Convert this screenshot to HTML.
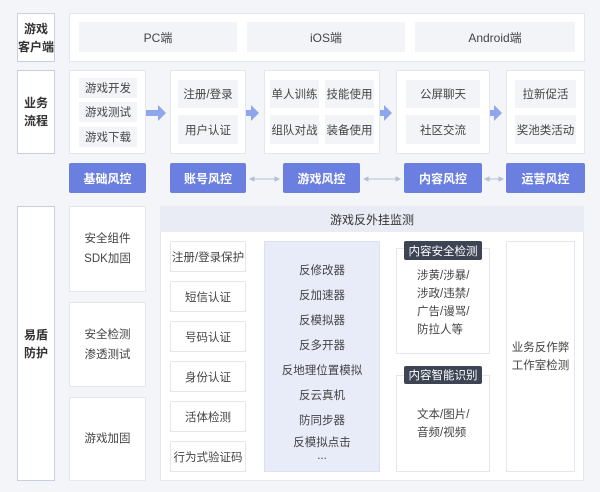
<!DOCTYPE html><html><head><meta charset="utf-8"><style>
*{margin:0;padding:0;box-sizing:border-box}
body{width:600px;height:492px;background:#f4f5f9;font-family:"Liberation Sans","Noto Sans CJK SC",sans-serif;color:#333;position:relative;overflow:hidden}
.a{position:absolute;display:flex;align-items:center;justify-content:center;text-align:center}
.w{background:#fff;border:1px solid #e3e6ef}
.lbl{background:#fff;border:1px solid #c8cfe3;font-weight:bold;font-size:12px;line-height:18px;color:#333}
.g{background:#f3f4f7;font-size:11.5px;color:#444}
.b{background:#6a7fe0;color:#fff;font-size:12px;font-weight:bold;border-radius:2px}
.it{background:#fff;border:1px solid #e3e6ef;font-size:11.5px;color:#444}
.dk{background:#3d4454;color:#fff;font-size:11.5px;border-radius:2px}
.t{font-size:11.5px;color:#444;line-height:20px}
</style></head><body>
<div class="a lbl" style="left:17px;top:13px;width:38px;height:49px">游戏<br>客户端</div>
<div class="a lbl" style="left:17px;top:70px;width:38px;height:84px">业务<br>流程</div>
<div class="a lbl" style="left:17px;top:206px;width:38px;height:275px">易盾<br>防护</div>

<div class="a w" style="left:69px;top:13px;width:516px;height:49px"></div>
<div class="a g" style="left:79px;top:22px;width:158px;height:30px;font-size:12px">PC端</div>
<div class="a g" style="left:247px;top:22px;width:158px;height:30px;font-size:12px">iOS端</div>
<div class="a g" style="left:415px;top:22px;width:160px;height:30px;font-size:12px">Android端</div>

<div class="a w" style="left:69px;top:70px;width:77px;height:84px"></div>
<div class="a g" style="left:79px;top:78px;width:58px;height:20px">游戏开发</div>
<div class="a g" style="left:79px;top:102px;width:58px;height:20px">游戏测试</div>
<div class="a g" style="left:79px;top:127px;width:58px;height:20px">游戏下载</div>
<div class="a w" style="left:170px;top:70px;width:76px;height:84px"></div>
<div class="a g" style="left:178px;top:80px;width:60px;height:28px">注册/登录</div>
<div class="a g" style="left:178px;top:115px;width:60px;height:29px">用户认证</div>
<div class="a w" style="left:264px;top:70px;width:116px;height:84px"></div>
<div class="a g" style="left:270px;top:80px;width:49px;height:28px">单人训练</div>
<div class="a g" style="left:325px;top:80px;width:49px;height:28px">技能使用</div>
<div class="a g" style="left:270px;top:115px;width:49px;height:29px">组队对战</div>
<div class="a g" style="left:325px;top:115px;width:49px;height:29px">装备使用</div>
<div class="a w" style="left:396px;top:70px;width:94px;height:84px"></div>
<div class="a g" style="left:406px;top:80px;width:74px;height:28px">公屏聊天</div>
<div class="a g" style="left:406px;top:115px;width:74px;height:29px">社区交流</div>
<div class="a w" style="left:506px;top:70px;width:79px;height:84px"></div>
<div class="a g" style="left:515px;top:80px;width:61px;height:28px">拉新促活</div>
<div class="a g" style="left:515px;top:115px;width:61px;height:29px">奖池类活动</div>
<svg style="position:absolute;left:0;top:0" width="600" height="492">
<g fill="#8fa6ec">
<path d="M146 110h12v-5l8 8-8 8v-5h-12z"/>
<path d="M246 110h5v-5l8 8-8 8v-5h-5z"/>
<path d="M380 110h4v-5l8 8-8 8v-5h-4z"/>
<path d="M490 110h4v-5l8 8-8 8v-5h-4z"/>
</g>
<g stroke="#b5bfd6" stroke-width="1" fill="#b5bfd6">
<line x1="251" y1="179" x2="278" y2="179"/><path d="M250 179l4-2v4zM279 179l-4-2v4z"/>
<line x1="365" y1="179" x2="399" y2="179"/><path d="M364 179l4-2v4zM400 179l-4-2v4z"/>
<line x1="486" y1="179" x2="502" y2="179"/><path d="M485 179l4-2v4zM503 179l-4-2v4z"/>
</g></svg>
<div class="a b" style="left:69px;top:163px;width:77px;height:30px">基础风控</div>
<div class="a b" style="left:170px;top:163px;width:76px;height:30px">账号风控</div>
<div class="a b" style="left:283px;top:163px;width:77px;height:30px">游戏风控</div>
<div class="a b" style="left:404px;top:163px;width:78px;height:30px">内容风控</div>
<div class="a b" style="left:506px;top:163px;width:79px;height:30px">运营风控</div>

<div class="a w t" style="left:69px;top:206px;width:77px;height:86px">安全组件<br>SDK加固</div>
<div class="a w t" style="left:69px;top:302px;width:77px;height:85px">安全检测<br>渗透测试</div>
<div class="a w t" style="left:69px;top:397px;width:77px;height:84px">游戏加固</div>

<div class="a w" style="left:160px;top:206px;width:424px;height:275px"></div>
<div class="a" style="left:160px;top:206px;width:424px;height:26px;background:#e9ecf5;font-size:12px;color:#333">游戏反外挂监测</div>
<div class="a it" style="left:170px;top:241px;width:76px;height:31px">注册/登录保护</div>
<div class="a it" style="left:170px;top:281px;width:76px;height:31px">短信认证</div>
<div class="a it" style="left:170px;top:321px;width:76px;height:31px">号码认证</div>
<div class="a it" style="left:170px;top:361px;width:76px;height:31px">身份认证</div>
<div class="a it" style="left:170px;top:401px;width:76px;height:31px">活体检测</div>
<div class="a it" style="left:170px;top:441px;width:76px;height:31px">行为式验证码</div>
<div class="a" style="left:264px;top:241px;width:116px;height:231px;background:#e8ecf8;border:1px solid #dbe1f1;flex-direction:column;font-size:11.5px;color:#444;line-height:25px;padding-top:6px">反修改器<br>反加速器<br>反模拟器<br>反多开器<br>反地理位置模拟<br>反云真机<br>防同步器<br><span style="line-height:18px">反模拟点击</span><span style="line-height:8px">...</span></div>
<div class="a w t" style="left:396px;top:248px;width:94px;height:106px;justify-content:flex-start;padding-left:20px;text-align:left;padding-top:4px;line-height:18px">涉黄/涉暴/<br>涉政/违禁/<br>广告/谩骂/<br>防拉人等</div>
<div class="a dk" style="left:404px;top:241px;width:78px;height:19px">内容安全检测</div>
<div class="a w t" style="left:396px;top:375px;width:94px;height:97px;justify-content:flex-start;padding-left:20px;text-align:left;line-height:18px">文本/图片/<br>音频/视频</div>
<div class="a dk" style="left:404px;top:366px;width:78px;height:18px">内容智能识别</div>
<div class="a w t" style="left:506px;top:241px;width:69px;height:231px;line-height:18px">业务反作弊<br>工作室检测</div>
</body></html>
